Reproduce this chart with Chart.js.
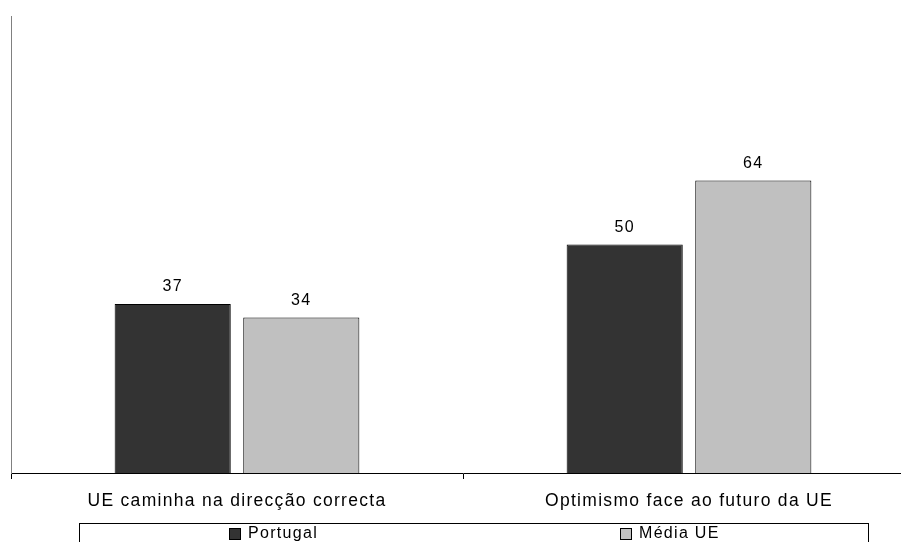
<!DOCTYPE html>
<html>
<head>
<meta charset="utf-8">
<script src="https://cdn.jsdelivr.net/npm/chart.js@4.4.0/dist/chart.umd.min.js"></script>
<style>
  html, body { margin: 0; padding: 0; background: #fff; overflow: hidden; }
  #wrap { width: 901px; height: 542px; overflow: hidden; }
</style>
</head>
<body>
<div id="wrap"><canvas id="myChart" width="930" height="542"></canvas></div>
<script>
// chart data
var categories = ['UE caminha na direcção correcta', 'Optimismo face ao futuro da UE'];
var portugal = [37, 50];
var mediaUE = [34, 64];
var seriesNames = ['Portugal', 'Média UE'];

var FONT = '"Liberation Sans", Arial, sans-serif';

// spreads the glyphs a bit, like the original rendering
var spacing = {
  id: 'spacing',
  beforeLayout: function (chart) { chart.ctx.letterSpacing = '1.3px'; },
  beforeDraw: function (chart) { chart.ctx.letterSpacing = '1.3px'; }
};

// numbers above each bar
var valueLabels = {
  id: 'valueLabels',
  afterDatasetsDraw: function (chart) {
    var ctx = chart.ctx;
    ctx.save();
    ctx.font = '16px ' + FONT;
    ctx.fillStyle = '#000';
    ctx.textAlign = 'center';
    ctx.textBaseline = 'alphabetic';
    chart.data.datasets.forEach(function (ds, i) {
      chart.getDatasetMeta(i).data.forEach(function (bar, j) {
        ctx.fillText(ds.data[j], bar.x, bar.y - 13);
      });
    });
    ctx.restore();
  }
};

// boxed legend below the chart
var boxLegend = {
  id: 'boxLegend',
  afterDraw: function (chart) {
    var ctx = chart.ctx;
    var slots = [229, 620];
    ctx.save();
    ctx.strokeStyle = '#000';
    ctx.lineWidth = 1;
    ctx.strokeRect(79.5, 523.5, 789, 30);
    ctx.font = '16px ' + FONT;
    ctx.textBaseline = 'middle';
    ctx.textAlign = 'left';
    chart.data.datasets.forEach(function (ds, i) {
      var x = slots[i];
      ctx.fillStyle = ds.backgroundColor;
      ctx.fillRect(x, 528, 12, 12);
      ctx.strokeRect(x + 0.5, 528.5, 11, 11);
      ctx.fillStyle = '#000';
      ctx.fillText(ds.label, x + 19, 534);
    });
    ctx.restore();
  }
};

var ctx = document.getElementById('myChart').getContext('2d');

var myChart = new Chart(ctx, {
  type: 'bar',
  data: {
    labels: categories,
    datasets: [{
      label: seriesNames[0],
      data: portugal,
      backgroundColor: '#333333',
      borderColor: '#000000',
      borderWidth: 1,
      categoryPercentage: 0.569,
      barPercentage: 0.903
    }, {
      label: seriesNames[1],
      data: mediaUE,
      backgroundColor: '#c0c0c0',
      borderColor: '#000000',
      borderWidth: 1,
      categoryPercentage: 0.569,
      barPercentage: 0.903
    }]
  },
  options: {
    responsive: false,
    animation: false,
    layout: { padding: { left: 11, top: 16, right: 15, bottom: 0 } },
    plugins: {
      legend: { display: false },
      tooltip: { enabled: false }
    },
    scales: {
      x: {
        grid: { display: true, drawOnChartArea: false, drawTicks: true, tickLength: 6, color: '#000', offset: true },
        border: { display: true, color: '#000', width: 1 },
        ticks: { color: '#000', font: { family: FONT, size: 17.5 }, padding: 12, maxRotation: 0 },
        afterFit: function (scale) { scale.height = 69; }
      },
      y: {
        min: 0,
        max: 100,
        grid: { display: false },
        border: { display: true, color: '#808080', width: 1 },
        ticks: { display: false },
        afterFit: function (scale) { scale.width = 0; }
      }
    }
  },
  plugins: [spacing, valueLabels, boxLegend]
});
</script>
</body>
</html>
